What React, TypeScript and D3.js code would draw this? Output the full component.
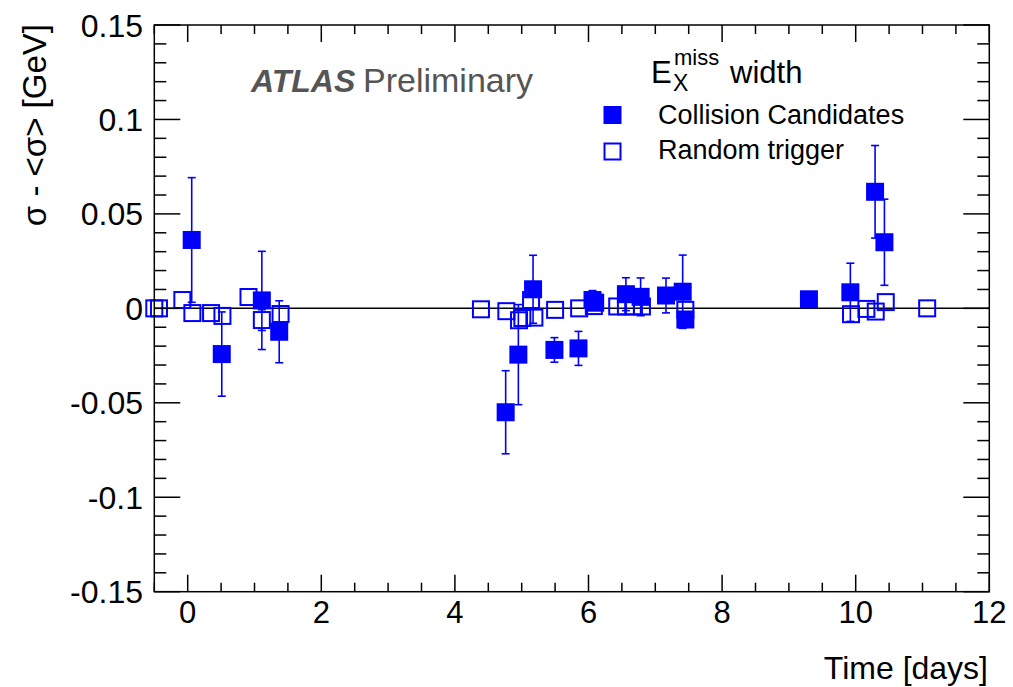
import React from 'react';
import * as d3 from 'd3';

// collision candidates (filled squares)
const collDays = [0.06, 0.51, 1.11, 1.37, 4.76, 4.95, 5.17, 5.49, 5.85, 6.06, 6.1, 6.56, 6.78, 7.16, 7.41, 7.45, 9.3, 9.92, 10.29, 10.43];
const collVals = [0.0362, -0.0242, 0.0042, -0.0124, -0.055, -0.0245, 0.0101, -0.022, -0.0212, 0.0044, 0.003, 0.0075, 0.0061, 0.0068, 0.0088, -0.0059, 0.0048, 0.0085, 0.0617, 0.035];
const collErrs = [0.033, 0.0223, 0.026, 0.0164, 0.022, 0.0265, 0.018, 0.0065, 0.009, 0.005, 0.003, 0.0087, 0.01, 0.0092, 0.0194, 0.003, 0.0025, 0.0154, 0.0245, 0.0228];

// random trigger (open squares)
const randDays = [-0.5, -0.43, -0.08, 0.07, 0.35, 0.52, 0.91, 1.11, 1.39, 4.39, 4.77, 4.96, 5.01, 5.14, 5.19, 5.5, 5.86, 6.08, 6.43, 6.56, 6.68, 6.8, 7.45, 9.93, 10.16, 10.3, 10.45, 11.07];
const randVals = [0.0, 0.0, 0.0044, -0.0025, -0.0025, -0.004, 0.006, -0.0062, -0.003, -0.0005, -0.0015, -0.0063, -0.0051, 0.0044, -0.0049, -0.0008, 0.0, 0.0012, 0.001, 0.001, 0.001, 0.001, -0.0008, -0.0031, -0.0003, -0.0017, 0.0033, 0.0];
const randErrs = [0.002, 0.002, 0.002, 0.002, 0.002, 0.002, 0.002, 0.0055, 0.002, 0.002, 0.002, 0.002, 0.002, 0.002, 0.002, 0.002, 0.002, 0.002, 0.002, 0.002, 0.002, 0.002, 0.002, 0.003, 0.002, 0.002, 0.002, 0.002];

const xTicks = [0, 2, 4, 6, 8, 10, 12];
const yTicks = [-0.15, -0.1, -0.05, 0, 0.05, 0.1, 0.15];
const yTickLabels = ['-0.15', '-0.1', '-0.05', '0', '0.05', '0.1', '0.15'];

const W = 1013;
const H = 687;
const L = 154.3, R = 989.3, T = 25, B = 591.7;
const BLUE = '#0000ff';
const FONT = '"Liberation Sans", Arial, Helvetica, sans-serif';
const MS = 18; // marker size

const App = () => {
  const x = d3.scaleLinear().domain([-0.5, 12]).range([L, R]);
  const y = d3.scaleLinear().domain([-0.15, 0.15]).range([B, T]);

  const xMinor = d3.range(-0.5, 12.001, 0.5).filter(d => !xTicks.includes(d));
  const yMinor = d3.range(-15, 16, 1).map(d => d / 100).filter(d => Math.abs(Math.round(d * 100)) % 5 !== 0);

  const errBar = (cx: number, v: number, e: number, hollow: boolean, key: string) => {
    const y1 = y(v + e), y2 = y(v - e), cy = y(v);
    const half = MS / 2;
    const parts: JSX.Element[] = [];
    if (hollow) {
      if (cy - y1 <= half) return null;
      parts.push(<line key="a" x1={cx} x2={cx} y1={y1} y2={cy - half} />);
      parts.push(<line key="b" x1={cx} x2={cx} y1={cy + half} y2={y2} />);
    } else {
      parts.push(<line key="a" x1={cx} x2={cx} y1={y1} y2={y2} />);
    }
    parts.push(<line key="c1" x1={cx - 4} x2={cx + 4} y1={y1} y2={y1} />);
    parts.push(<line key="c2" x1={cx - 4} x2={cx + 4} y1={y2} y2={y2} />);
    return <g key={key} stroke={BLUE} strokeWidth={1.6}>{parts}</g>;
  };

  return (
    <svg width={W} height={H} style={{ position: 'absolute', left: 0, top: 0, background: '#fff' }} fontFamily={FONT}>
      <rect x={0} y={0} width={W} height={H} fill="#fff" />

      {/* zero line */}
      <line x1={L} x2={R} y1={y(0)} y2={y(0)} stroke="#000" strokeWidth={1.5} />

      {/* random trigger */}
      {randDays.map((d, i) => errBar(x(d), randVals[i], randErrs[i], true, 're' + i))}
      {randDays.map((d, i) => (
        <rect key={'r' + i} x={x(d) - MS / 2 + 1} y={y(randVals[i]) - MS / 2 + 1} width={MS - 2} height={MS - 2}
          fill="none" stroke={BLUE} strokeWidth={2} />
      ))}

      {/* collision candidates */}
      {collDays.map((d, i) => errBar(x(d), collVals[i], collErrs[i], false, 'ce' + i))}
      {collDays.map((d, i) => (
        <rect key={'c' + i} x={x(d) - MS / 2} y={y(collVals[i]) - MS / 2} width={MS} height={MS} fill={BLUE} />
      ))}

      {/* frame and ticks */}
      <g stroke="#000" strokeWidth={1.5}>
        <rect x={L} y={T} width={R - L} height={B - T} fill="none" />
        {xTicks.map(t => (
          <g key={'xt' + t}>
            <line x1={x(t)} x2={x(t)} y1={B} y2={B - 17} />
            <line x1={x(t)} x2={x(t)} y1={T} y2={T + 17} />
          </g>
        ))}
        {xMinor.map(t => (
          <g key={'xm' + t}>
            <line x1={x(t)} x2={x(t)} y1={B} y2={B - 9} />
            <line x1={x(t)} x2={x(t)} y1={T} y2={T + 9} />
          </g>
        ))}
        {yTicks.map(t => (
          <g key={'yt' + t}>
            <line x1={L} x2={L + 26} y1={y(t)} y2={y(t)} />
            <line x1={R} x2={R - 26} y1={y(t)} y2={y(t)} />
          </g>
        ))}
        {yMinor.map(t => (
          <g key={'ym' + t}>
            <line x1={L} x2={L + 12} y1={y(t)} y2={y(t)} />
            <line x1={R} x2={R - 12} y1={y(t)} y2={y(t)} />
          </g>
        ))}
      </g>

      {/* tick labels */}
      <g fontSize={31} fill="#000">
        {xTicks.map(t => (
          <text key={'xl' + t} x={x(t)} y={623} textAnchor="middle">{t}</text>
        ))}
      </g>
      <g fontSize={32} fill="#000">
        {yTicks.map((t, i) => (
          <text key={'yl' + t} x={143} y={y(t) + 11.5} textAnchor="end">{yTickLabels[i]}</text>
        ))}
      </g>

      {/* axis titles */}
      <text x={988} y={679} textAnchor="end" fontSize={32}>Time [days]</text>
      <text transform="translate(46,24) rotate(-90)" textAnchor="end" fontSize={33}>σ - &lt;σ&gt; [GeV]</text>

      {/* ATLAS label */}
      <text x={251} y={92} fontSize={32} fill="#555" fontWeight="bold" fontStyle="italic">ATLAS</text>
      <text x={363} y={92} fontSize={34} fill="#555">Preliminary</text>

      {/* legend */}
      <text x={651} y={83} fontSize={31}>E</text>
      <text x={674} y={65} fontSize={22}>miss</text>
      <text x={673} y={91} fontSize={23}>X</text>
      <text x={730} y={83} fontSize={31}>width</text>

      <rect x={612.5 - MS / 2} y={115 - MS / 2} width={MS} height={MS} fill={BLUE} />
      <text x={658} y={124} fontSize={27}>Collision Candidates</text>
      <rect x={612.5 - MS / 2 + 1} y={151.5 - MS / 2 + 1} width={MS - 2} height={MS - 2} fill="none" stroke={BLUE} strokeWidth={2} />
      <text x={658} y={159} fontSize={27}>Random trigger</text>
    </svg>
  );
};

export default App;
